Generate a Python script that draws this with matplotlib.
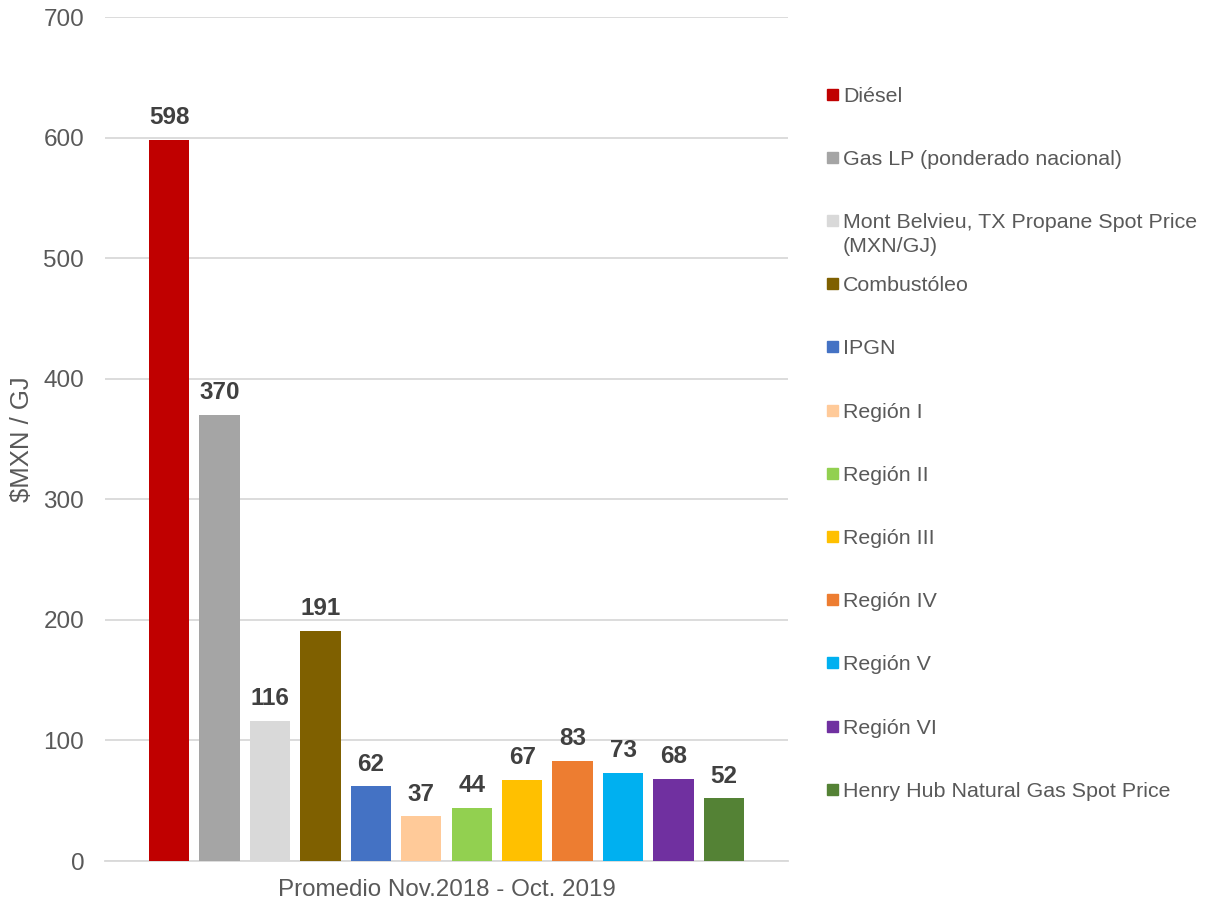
import matplotlib
matplotlib.use("Agg")
import matplotlib.pyplot as plt
from matplotlib.patches import Rectangle

plt.rcParams['font.family'] = ['Liberation Sans', 'DejaVu Sans']

categories = ["Diésel", "Gas LP (ponderado nacional)",
              "Mont Belvieu, TX Propane Spot Price\n(MXN/GJ)", "Combustóleo",
              "IPGN", "Región I", "Región II", "Región III", "Región IV",
              "Región V", "Región VI", "Henry Hub Natural Gas Spot Price"]
values = [598, 370, 116, 191, 62, 37, 44, 67, 83, 73, 68, 52]
colors = ["#C00000", "#A5A5A5", "#D9D9D9", "#7F6000", "#4472C4", "#FFCA99",
          "#92D050", "#FFC000", "#ED7D31", "#00B0F0", "#7030A0", "#548235"]
yticks = [0, 100, 200, 300, 400, 500, 600, 700]
xlabel = "Promedio Nov.2018 - Oct. 2019"
ylabel = r"\$MXN / GJ"

W, H = 1206, 906
fig = plt.figure(figsize=(W / 100, H / 100), dpi=100)
ax_l, ax_r, ax_b, ax_t = 105, 788, 861, 17
ax = fig.add_axes([ax_l / W, 1 - ax_b / H, (ax_r - ax_l) / W, (ax_b - ax_t) / H])

txt = "#595959"
pos = list(range(len(values)))
ax.bar(pos, values, width=0.8, color=colors, zorder=3)
for x, v in zip(pos, values):
    ax.annotate(f"{v}", (x, v), xytext=(0, 16), textcoords="offset points",
                ha="center", va="center", fontsize=17.5, fontweight="bold",
                color="#404040", zorder=4)

ax.set_xlim(-1.27, 12.27)
ax.set_ylim(0, 700)
ax.set_yticks(yticks)
ax.set_yticklabels([str(t) for t in yticks])
ax.grid(axis="y", color="#D9D9D9", linewidth=1.3, zorder=0)
ax.set_xticks([])
for s in ["top", "right", "left"]:
    ax.spines[s].set_visible(False)
ax.spines["bottom"].set_color("#D9D9D9")
ax.spines["bottom"].set_linewidth(1.3)
ax.tick_params(axis="y", length=0, pad=15, labelsize=17.5, labelcolor=txt)

ax.set_xlabel(xlabel, fontsize=17.4, color=txt, labelpad=13)
ax.set_ylabel(ylabel, fontsize=18.5, color=txt, va="center")
ax.yaxis.set_label_coords(-0.122, 0.5)

# legend
row0, step = 94, 63.2
fs_leg = 15.4
cap = 0.716 * fs_leg * 100 / 72
for i, (lab, c) in enumerate(zip(categories, colors)):
    py = row0 + step * i
    fig.add_artist(Rectangle((827 / W, 1 - (py + 5.5) / H), 11 / W, 11 / H,
                             transform=fig.transFigure, color=c))
    for j, line in enumerate(lab.split("\n")):
        fig.text(843 / W, 1 - (py + cap / 2 + 24 * j) / H, line, ha="left",
                 va="baseline", fontsize=fs_leg, color=txt)

fig.savefig("out.png", dpi=100)
